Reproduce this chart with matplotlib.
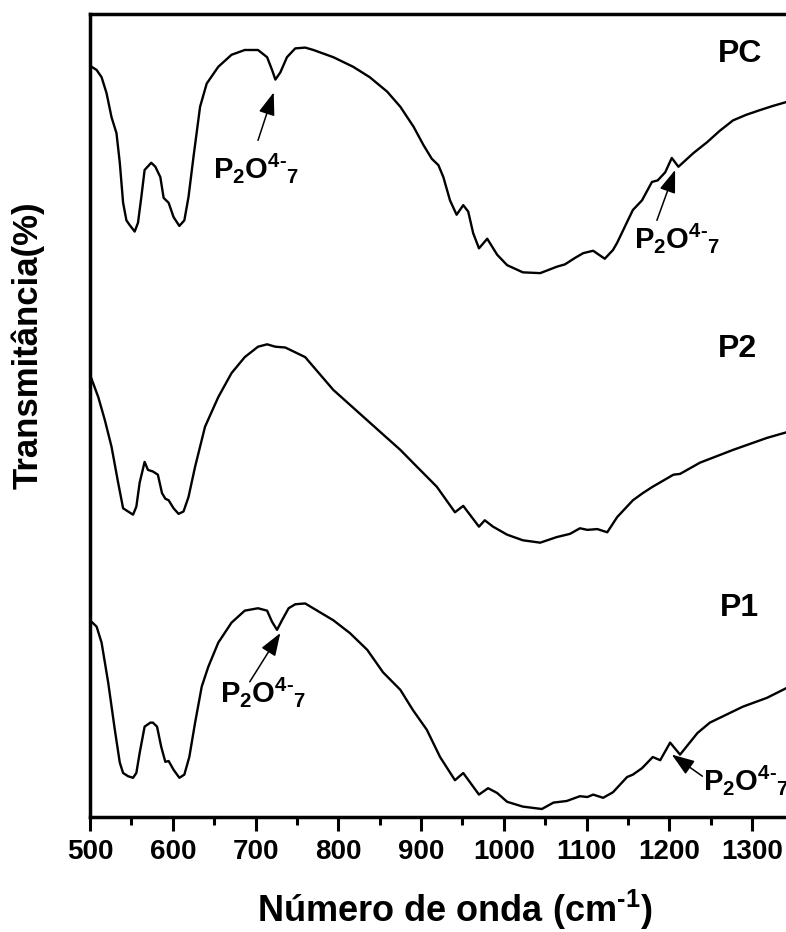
import numpy as np
import matplotlib
matplotlib.use("Agg")
import matplotlib.pyplot as plt

plt.rcParams['font.family'] = ['Liberation Sans', 'DejaVu Sans']
plt.rcParams['font.weight'] = 'bold'
plt.rcParams['mathtext.fontset'] = 'custom'
plt.rcParams['mathtext.rm'] = 'Liberation Sans:bold'
plt.rcParams['mathtext.it'] = 'Liberation Sans:bold'
plt.rcParams['mathtext.bf'] = 'Liberation Sans:bold'
plt.rcParams['mathtext.default'] = 'rm'

# ---- data (wavenumber cm^-1, transmittance a.u., curves offset) ----
pc_w = [500, 502, 508, 514, 520, 526, 532, 536, 540, 544, 548, 554, 558, 562, 566, 574, 579, 585,
        589, 595, 601, 608, 614, 619, 625, 633, 641, 655, 671, 687, 703, 714, 720, 724, 730, 738,
        748, 760, 770, 794, 818, 838, 859, 875, 891, 903, 913, 921, 927, 935, 943, 951, 957, 963,
        970, 980, 992, 1004, 1023, 1044, 1064, 1074, 1086, 1096, 1108, 1122, 1132, 1137, 1149,
        1156, 1167, 1179, 1186, 1195, 1203, 1211, 1229, 1246, 1261, 1277, 1293, 1310, 1325, 1345]
pc_t = [93.8, 93.8, 93.4, 92.5, 90.5, 87.5, 85.5, 81.8, 76.8, 74.6, 74.0, 73.2, 74.3, 77.5, 80.9,
        81.8, 81.3, 80.0, 77.4, 76.8, 75.0, 73.9, 74.6, 77.5, 82.5, 88.8, 91.7, 93.8, 95.3, 95.9,
        95.9, 95.0, 93.4, 92.2, 93.1, 95.0, 96.1, 96.2, 95.9, 95.0, 93.8, 92.5, 90.7, 88.8, 86.3,
        84.0, 82.3, 81.5, 80.0, 77.1, 75.3, 76.5, 75.7, 73.0, 71.1, 72.3, 70.3, 69.0, 68.1, 68.0,
        68.8, 69.1, 69.9, 70.5, 70.8, 69.8, 70.9, 71.8, 74.4, 75.9, 77.1, 79.4, 79.6, 80.6, 82.4,
        81.3, 83.0, 84.4, 85.8, 87.1, 87.8, 88.4, 88.9, 89.5]

p2_w = [500, 510, 518, 526, 534, 540, 546, 552, 556, 560, 566, 570, 576, 582, 587, 591, 595, 601,
        607, 613, 619, 627, 639, 655, 671, 687, 703, 714, 724, 736, 752, 760, 794, 835, 875, 895,
        919, 941, 951, 970, 977, 987, 1004, 1023, 1044, 1064, 1080, 1092, 1101, 1113, 1125, 1137,
        1156, 1168, 1180, 1205, 1213, 1237, 1277, 1318, 1345]
p2_t = [55.3, 52.5, 49.6, 46.3, 41.8, 38.6, 38.2, 37.8, 38.8, 41.8, 44.4, 43.4, 43.2, 42.8, 40.5,
        39.8, 39.6, 38.6, 37.9, 38.2, 40.0, 43.8, 48.8, 52.5, 55.5, 57.5, 58.8, 59.1, 58.8, 58.7,
        57.9, 57.5, 53.4, 49.6, 45.9, 43.8, 41.3, 38.1, 38.9, 36.3, 37.1, 36.3, 35.3, 34.6, 34.3,
        35.0, 35.4, 36.1, 35.9, 36.0, 35.6, 37.5, 39.6, 40.5, 41.3, 42.8, 42.9, 44.3, 45.9, 47.4,
        48.2]

p1_w = [500, 502, 508, 514, 522, 530, 536, 540, 546, 552, 556, 560, 566, 573, 576, 581, 586, 591,
        595, 601, 608, 614, 620, 627, 635, 643, 655, 671, 687, 703, 714, 720, 726, 732, 740, 748,
        760, 794, 814, 835, 854, 875, 890, 907, 923, 941, 951, 970, 981, 992, 1004, 1023, 1046,
        1060, 1076, 1092, 1101, 1108, 1120, 1132, 1149, 1156, 1167, 1180, 1189, 1201, 1213, 1234,
        1249, 1289, 1318, 1345]
p1_t = [24.4, 24.4, 23.8, 21.8, 16.8, 10.9, 6.8, 5.5, 5.1, 4.9, 5.5, 8.0, 11.3, 11.8, 11.8, 11.3,
        8.8, 6.9, 7.0, 5.9, 4.9, 5.3, 7.5, 11.8, 16.3, 18.8, 21.8, 24.3, 25.8, 26.1, 25.8, 24.4,
        23.4, 24.6, 26.1, 26.6, 26.7, 24.6, 23.0, 20.9, 18.1, 15.9, 13.4, 10.9, 7.5, 4.6, 5.5, 2.8,
        3.6, 3.0, 1.9, 1.3, 1.0, 1.8, 2.0, 2.6, 2.5, 2.8, 2.4, 3.1, 5.0, 5.3, 6.1, 7.5, 7.1, 9.3,
        7.8, 10.5, 11.8, 13.8, 14.9, 16.3]

series_names = ['PC', 'P2', 'P1']
series_label_pos = [(1285, 95.4), (1282, 58.5), (1285, 26.1)]
xticks_major = [500, 600, 700, 800, 900, 1000, 1100, 1200, 1300]
xticks_minor = [550, 650, 750, 850, 950, 1050, 1150, 1250]

# annotation: (tip_w, tip_t, tail_w, tail_t, text_w, text_t)
annots = [(722, 90.6, 703, 84.6, 649, 79.9),
          (1207, 80.9, 1185, 74.6, 1157, 71.1),
          (730, 23.0, 693, 16.9, 657, 14.4),
          (1203, 7.8, 1240, 5.1, 1241, 3.4)]
ann_text = r'P$_2$O$^{4\text{-}}$$_7$'

fig = plt.figure(figsize=(7.86, 9.32), dpi=100)
ax = fig.add_axes([90/786, 1-817/932, 1-90/786, (817-14)/932])

for w, t in [(pc_w, pc_t), (p2_w, p2_t), (p1_w, p1_t)]:
    ax.plot(w, t, color='black', lw=1.7, solid_joinstyle='round')

ax.set_xlim(500, 1341)
ax.set_ylim(0, 100.4)

for name, (xw, yt) in zip(series_names, series_label_pos):
    ax.text(xw, yt, name, fontsize=23, fontweight='bold', ha='center', va='center')

for tw, tt, aw, at, xw, yt in annots:
    ax.annotate('', xy=(tw, tt), xytext=(aw, at),
                arrowprops=dict(arrowstyle='-|>,head_length=0.7,head_width=0.25',
                                color='black', lw=1.1, shrinkA=0, shrinkB=0,
                                mutation_scale=20))
    ax.text(xw, yt, ann_text, fontsize=21, fontweight='bold', ha='left', va='baseline')

ax.set_xticks(xticks_major)
ax.set_xticks(xticks_minor, minor=True)
ax.set_yticks([])
ax.tick_params(axis='x', which='major', direction='out', length=10, width=2.2,
               labelsize=20, pad=6)
ax.tick_params(axis='x', which='minor', direction='out', length=6, width=2.2)
for lab in ax.get_xticklabels():
    lab.set_fontweight('bold')
for s in ['left', 'top', 'bottom']:
    ax.spines[s].set_linewidth(2.5)
ax.spines['right'].set_visible(False)

fig.text(455/786, 1-922/932, r'Número de onda (cm$^{\text{-1}}$)', fontsize=26,
         fontweight='bold', ha='center', va='baseline')
fig.text(28/786, 1-345/932, 'Transmitância(%)', fontsize=25, fontweight='bold',
         rotation=90, ha='center', va='center')

fig.savefig('out.png', dpi=100)
